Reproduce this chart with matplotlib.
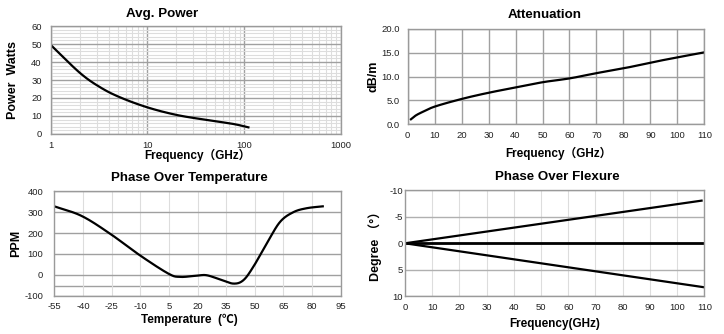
import matplotlib
matplotlib.use("Agg")
import matplotlib.pyplot as plt
import numpy as np
from matplotlib.ticker import FixedLocator, NullFormatter, FuncFormatter

plt.rcParams['font.family'] = ['Liberation Sans', 'Noto Sans CJK SC', 'DejaVu Sans']
plt.rcParams['axes.unicode_minus'] = False

# ---- data ----
power_freq = [1, 2.0, 3.24, 5.2, 10, 20, 41, 77, 111]
power_watts = [49.5, 34, 26, 20.4, 14.8, 10.6, 7.8, 5.6, 3.7]

att_freq = [1.2, 2.7, 5, 10, 20, 30, 40, 50, 60, 70, 80, 90, 100, 110]
att_db = [1.05, 1.74, 2.45, 3.7, 5.3, 6.6, 7.7, 8.8, 9.6, 10.7, 11.7, 12.9, 14.0, 15.05]

temp_c = [-55, -40.7, -25.8, -10.1, 4.7, 10.8, 19.6, 24.8, 31.8, 38.8, 44, 49.2, 56.2, 63.2, 70.2, 77.2, 85.6]
temp_ppm = [328, 282, 197, 93, 6, -10, -4, -2, -22, -42, -26, 38, 149, 253, 300, 319, 328]

flex_freq_up = [0, 109]
flex_deg_up = [0, -8.05]
flex_freq_low = [0, 110]
flex_deg_low = [0, 8.3]
flex_freq_mid = [0, 110]
flex_deg_mid = [0, 0]

W, H = 724, 334
fig = plt.figure(figsize=(W / 100, H / 100), dpi=100)

def ax_px(l, r, t, b):
    return fig.add_axes([l / W, 1 - b / H, (r - l) / W, (b - t) / H])

tick_fs = 6.8
xlab_fs = 8.5
ylab_fs = 9.0
title_fs = 9.6
spine_c = '#9a9a9a'

def style(ax, xpad, ypad):
    for s in ax.spines.values():
        s.set_color(spine_c)
        s.set_linewidth(1.0)
    ax.tick_params(length=0, labelsize=tick_fs, colors='#222222')
    ax.tick_params(axis='y', pad=ypad)
    ax.tick_params(axis='x', pad=xpad)
    ax.set_axisbelow(True)

def smooth(x, y):
    x = np.asarray(x, float); y = np.asarray(y, float)
    pts = np.column_stack([x, y])
    P = np.vstack([2 * pts[0] - pts[1], pts, 2 * pts[-1] - pts[-2]])
    out = []
    for i in range(1, len(P) - 2):
        p0, p1, p2, p3 = P[i - 1], P[i], P[i + 1], P[i + 2]
        t = np.linspace(0, 1, 30, endpoint=False)[:, None]
        c = 0.5 * ((2 * p1) + (-p0 + p2) * t + (2 * p0 - 5 * p1 + 4 * p2 - p3) * t ** 2
                   + (-p0 + 3 * p1 - 3 * p2 + p3) * t ** 3)
        out.append(c)
    out.append(pts[-1][None, :])
    o = np.vstack(out)
    return o[:, 0], o[:, 1]

# ---- Avg. Power ----
ax1 = ax_px(50.7, 340.7, 26, 134)
style(ax1, 5, 6.5)
ax1.set_xscale('log')
ax1.set_xlim(1, 1000)
ax1.set_ylim(0, 60)
ax1.set_yticks([0, 10, 20, 30, 40, 50, 60])
ax1.yaxis.set_minor_locator(FixedLocator(np.arange(0, 60, 2)))
ax1.set_xticks([1, 10, 100, 1000])
ax1.xaxis.set_major_formatter(FuncFormatter(lambda v, p: f"{int(v)}"))
ax1.xaxis.set_minor_locator(FixedLocator([m * d for d in (1, 10, 100) for m in range(2, 10)]))
ax1.xaxis.set_minor_formatter(NullFormatter())
ax1.tick_params(which='minor', length=0)
ax1.grid(which='major', color='#a0a0a0', linewidth=1.0)
ax1.grid(which='minor', color='#dddddd', linewidth=0.8)
lx = np.log10(power_freq)
sx, sy = smooth(lx, power_watts)
ax1.plot(10 ** sx, sy, color='black', linewidth=1.6)

# ---- Attenuation ----
ax2 = ax_px(407.7, 704.3, 28.7, 124.3)
style(ax2, 5, 5.5)
ax2.set_xlim(0, 110)
ax2.set_ylim(0, 20)
ax2.set_xticks(np.arange(0, 111, 10))
ax2.set_yticks([0, 5, 10, 15, 20])
ax2.yaxis.set_major_formatter(FuncFormatter(lambda v, p: f"{v:.1f}"))
ax2.grid(color='#a0a0a0', linewidth=1.0)
sx, sy = smooth(att_freq, att_db)
ax2.plot(sx, sy, color='black', linewidth=1.6)

# ---- Phase over Temperature ----
ax3 = ax_px(54.3, 340.7, 191.3, 295.7)
style(ax3, 4.5, 8)
ax3.set_xlim(-55, 95)
ax3.set_ylim(-100, 400)
ax3.set_xticks(np.arange(-55, 96, 15))
ax3.set_yticks(np.arange(-100, 401, 100))
ax3.grid(axis='y', color='#a0a0a0', linewidth=1.0)
ax3.grid(axis='x', color='#dddddd', linewidth=0.8)
ax3.axhline(-53, color='#a0a0a0', linewidth=1.0, zorder=0.5)
sx, sy = smooth(temp_c, temp_ppm)
ax3.plot(sx, sy, color='black', linewidth=1.6)

# ---- Phase over Flexure ----
ax4 = ax_px(405, 704.3, 190.3, 296.3)
style(ax4, 4.5, 1.5)
ax4.set_xlim(0, 110)
ax4.set_ylim(10, -10)
ax4.set_xticks(np.arange(0, 111, 10))
ax4.set_yticks([-10, -5, 0, 5, 10])
ax4.grid(axis='y', color='#b0b0b0', linewidth=1.0)
ax4.grid(axis='x', color='#dddddd', linewidth=0.8)
ax4.plot(flex_freq_up, flex_deg_up, color='black', linewidth=1.6)
ax4.plot(flex_freq_low, flex_deg_low, color='black', linewidth=1.6)
ax4.plot(flex_freq_mid, flex_deg_mid, color='black', linewidth=2.0)

# ---- texts (titles, labels) ----
def ftext(x, y, s, **kw):
    fig.text(x / W, 1 - y / H, s, ha='center', va='center', fontweight='bold', **kw)

ftext(162, 14, 'Avg. Power', fontsize=title_fs)
ftext(545, 15, 'Attenuation', fontsize=title_fs)
ftext(189, 178, 'Phase Over Temperature', fontsize=title_fs)
ftext(557, 177, 'Phase Over Flexure', fontsize=title_fs)

ftext(197, 155, 'Frequency（GHz）', fontsize=xlab_fs)
ftext(558, 153, 'Frequency（GHz）', fontsize=xlab_fs)
ftext(189, 320, 'Temperature  (℃)', fontsize=xlab_fs)
ftext(555, 324, 'Frequency(GHz)', fontsize=xlab_fs)

ftext(13, 80, 'Power  Watts', fontsize=ylab_fs, rotation=90)
ftext(374, 76, 'dB/m', fontsize=ylab_fs, rotation=90)
ftext(16, 243, 'PPM', fontsize=ylab_fs, rotation=90)
ftext(375, 243, 'Degree （°）', fontsize=ylab_fs, rotation=90)

fig.savefig('out.png', dpi=100)
